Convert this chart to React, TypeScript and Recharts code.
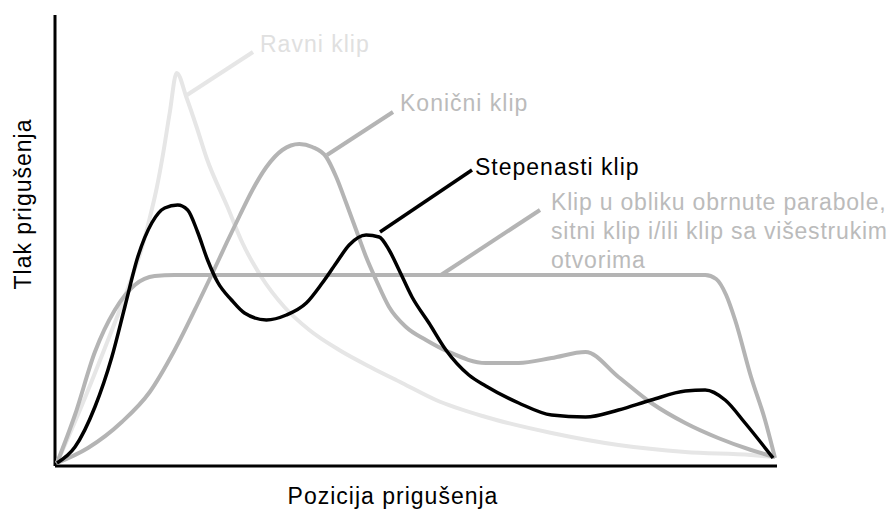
import { LineChart, Line, XAxis, YAxis, ReferenceLine } from "recharts";

// position along the stroke (x) vs damping pressure (p), arbitrary units
const ravniKlip = [
  { x: 0, p: 0 }, { x: 23, p: 53 }, { x: 48, p: 115 }, { x: 73, p: 180 },
  { x: 86, p: 218 }, { x: 93, p: 245 }, { x: 100, p: 275 }, { x: 106, p: 307 },
  { x: 113, p: 350 }, { x: 120, p: 390 }, { x: 130, p: 365 }, { x: 140, p: 336 },
  { x: 150, p: 305 }, { x: 171, p: 256 }, { x: 186, p: 220 }, { x: 205, p: 186 },
  { x: 228, p: 156 }, { x: 253, p: 133 }, { x: 283, p: 113 }, { x: 316, p: 95 },
  { x: 346, p: 80 }, { x: 380, p: 63 }, { x: 430, p: 46 }, { x: 496, p: 30 },
  { x: 563, p: 18 }, { x: 630, p: 11 }, { x: 696, p: 8 }, { x: 720, p: 6 },
];

const konicniKlip = [
  { x: 0, p: 0 }, { x: 31, p: 15 }, { x: 65, p: 41 }, { x: 93, p: 71 },
  { x: 118, p: 113 }, { x: 143, p: 163 }, { x: 156, p: 190 }, { x: 170, p: 220 },
  { x: 183, p: 247 }, { x: 196, p: 273 }, { x: 210, p: 296 }, { x: 226, p: 313 },
  { x: 243, p: 319 }, { x: 256, p: 316 }, { x: 270, p: 306 }, { x: 280, p: 286 },
  { x: 290, p: 260 }, { x: 300, p: 233 }, { x: 310, p: 206 }, { x: 320, p: 183 },
  { x: 333, p: 156 }, { x: 350, p: 136 }, { x: 370, p: 123 }, { x: 393, p: 111 },
  { x: 430, p: 100 }, { x: 463, p: 100 }, { x: 496, p: 105 }, { x: 530, p: 111 },
  { x: 563, p: 86 }, { x: 596, p: 60 }, { x: 630, p: 40 }, { x: 663, p: 25 },
  { x: 696, p: 13 }, { x: 720, p: 6 },
];

const stepenastiKlip = [
  { x: 0, p: 0 }, { x: 18, p: 16 }, { x: 38, p: 56 }, { x: 55, p: 106 },
  { x: 68, p: 156 }, { x: 81, p: 206 }, { x: 95, p: 240 }, { x: 108, p: 255 },
  { x: 121, p: 258 }, { x: 131, p: 253 }, { x: 141, p: 231 }, { x: 151, p: 203 },
  { x: 161, p: 181 }, { x: 175, p: 163 }, { x: 188, p: 150 }, { x: 210, p: 143 },
  { x: 230, p: 148 }, { x: 250, p: 160 }, { x: 266, p: 180 }, { x: 280, p: 200 },
  { x: 293, p: 218 }, { x: 310, p: 228 }, { x: 323, p: 226 }, { x: 333, p: 213 },
  { x: 343, p: 193 }, { x: 356, p: 166 }, { x: 373, p: 140 }, { x: 390, p: 113 },
  { x: 413, p: 88 }, { x: 430, p: 77 }, { x: 463, p: 60 }, { x: 496, p: 48 },
  { x: 530, p: 46 }, { x: 563, p: 53 }, { x: 596, p: 63 }, { x: 630, p: 72 },
  { x: 650, p: 73 }, { x: 670, p: 63 }, { x: 690, p: 40 }, { x: 718, p: 5 },
];

const parabolaKlip = [
  { x: 0, p: 0 }, { x: 18, p: 48 }, { x: 38, p: 111 }, { x: 58, p: 153 },
  { x: 78, p: 178 }, { x: 98, p: 187 }, { x: 118, p: 188 }, { x: 650, p: 188 },
  { x: 661, p: 184 }, { x: 671, p: 168 }, { x: 680, p: 143 }, { x: 696, p: 86 },
  { x: 710, p: 43 }, { x: 720, p: 5 },
];

const FONT = "'Liberation Sans', Arial, sans-serif";
const LIGHT = "#e6e6e6";
const GREY = "#b4b4b4";

const App = () => {
  return (
    <div style={{ position: "absolute", left: 0, top: 0, background: "#fff" }}>
      <LineChart
        width={895}
        height={509}
        margin={{ top: 15, left: 55, right: 118, bottom: 43 }}
      >
        <XAxis type="number" dataKey="x" domain={[-2, 722]} hide />
        <YAxis type="number" domain={[-3, 448]} hide />
        <ReferenceLine x={-2} stroke="#000" strokeWidth={3} />
        <ReferenceLine y={-3} stroke="#000" strokeWidth={3} />

        <Line data={ravniKlip} dataKey="p" type="monotone" stroke={LIGHT} strokeWidth={4} dot={false} activeDot={false} isAnimationActive={false} />
        <Line data={parabolaKlip} dataKey="p" type="monotone" stroke={GREY} strokeWidth={4} dot={false} activeDot={false} isAnimationActive={false} />
        <Line data={konicniKlip} dataKey="p" type="monotone" stroke={GREY} strokeWidth={4} dot={false} activeDot={false} isAnimationActive={false} />
        <Line data={stepenastiKlip} dataKey="p" type="monotone" stroke="#000" strokeWidth={3.5} dot={false} activeDot={false} isAnimationActive={false} />

        <g fontFamily={FONT} fontSize={23} letterSpacing={1}>
          <line x1={187} y1={95} x2={253} y2={52} stroke={LIGHT} strokeWidth={4} />
          <text x={260} y={52} fill="#e0e0e0">Ravni klip</text>

          <line x1={327} y1={155} x2={393} y2={112} stroke={GREY} strokeWidth={4} />
          <text x={400} y={111} fill="#bbbbbb">Konični klip</text>

          <line x1={380} y1={232} x2={472} y2={170} stroke="#000" strokeWidth={3.5} />
          <text x={475} y={175} fill="#000">Stepenasti klip</text>

          <line x1={441} y1={275} x2={540} y2={210} stroke={GREY} strokeWidth={4} />
          <g letterSpacing={0.8}>
            <text x={551} y={210} fill="#bbbbbb">Klip u obliku obrnute parabole,</text>
            <text x={551} y={239} fill="#bbbbbb">sitni klip i/ili klip sa višestrukim</text>
            <text x={551} y={268} fill="#bbbbbb">otvorima</text>
          </g>

          <text x={393} y={504} textAnchor="middle" fill="#000">Pozicija prigušenja</text>
          <text x={31} y={204} textAnchor="middle" fill="#000" transform="rotate(-90 31 204)">Tlak prigušenja</text>
        </g>
      </LineChart>
    </div>
  );
};

export default App;
